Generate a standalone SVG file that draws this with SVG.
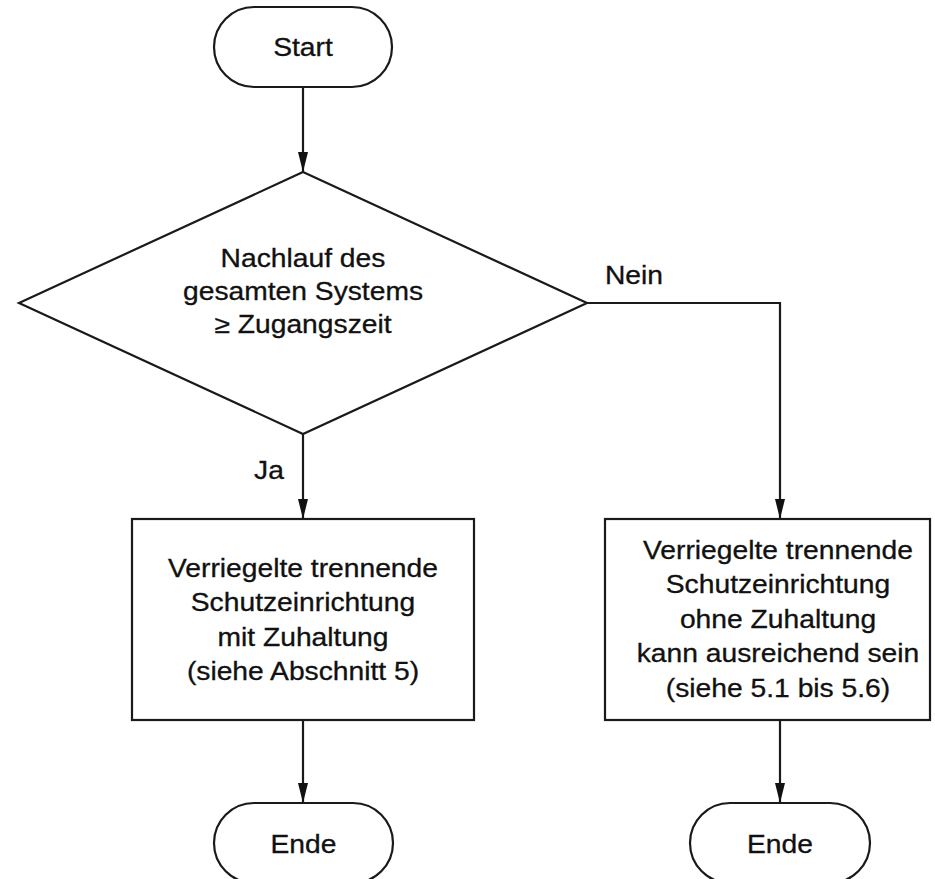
<svg xmlns="http://www.w3.org/2000/svg" width="935" height="879" viewBox="0 0 935 879">
  <style>
    .shape { fill: #ffffff; stroke: #1a1a1a; stroke-width: 2.2; }
    .conn { fill: none; stroke: #1a1a1a; stroke-width: 2.2; }
    .t { font-family: "Liberation Sans", Arial, Helvetica, sans-serif; font-size: 25px; fill: #111111; stroke: #111111; stroke-width: 0.3; text-anchor: middle; }
  </style>
  <defs>
    <marker id="arrow" markerUnits="userSpaceOnUse" markerWidth="20" markerHeight="10" refX="20" refY="5" orient="auto" viewBox="0 0 20 10">
      <path d="M0,0 L20,5 L0,10 Z" fill="#111111"/>
    </marker>
  </defs>
  <rect width="935" height="879" fill="#ffffff"/>

  <g id="connectors">
    <path class="conn" d="M303,87 L303,172" marker-end="url(#arrow)"/>
    <path class="conn" d="M303,434 L303,519" marker-end="url(#arrow)"/>
    <path class="conn" d="M587,303 L780,303 L780,519" marker-end="url(#arrow)"/>
    <path class="conn" d="M303,720 L303,803" marker-end="url(#arrow)"/>
    <path class="conn" d="M780,720 L780,803" marker-end="url(#arrow)"/>
    <g transform="translate(634,0) scale(1.13,1)"><text class="t" x="0" y="284">Nein</text></g>
    <g transform="translate(269,0) scale(1.13,1)"><text class="t" x="0" y="479">Ja</text></g>
  </g>

  <g id="start">
    <rect class="shape" x="214" y="7" width="178" height="80" rx="40" ry="40"/>
    <g transform="translate(303,0) scale(1.13,1)"><text class="t" x="0" y="56">Start</text></g>
  </g>

  <g id="decision">
    <polygon class="shape" points="303,172 587,303 303,434 19,303"/>
    <g transform="translate(303,0) scale(1.13,1)">
      <text class="t" x="0" y="267">Nachlauf des</text>
      <text class="t" x="0" y="300">gesamten Systems</text>
      <text class="t" x="0" y="333">≥ Zugangszeit</text>
    </g>
  </g>

  <g id="box-ja">
    <rect class="shape" x="132" y="519" width="342" height="201"/>
    <g transform="translate(303,0) scale(1.13,1)">
      <text class="t" x="0" y="577">Verriegelte trennende</text>
      <text class="t" x="0" y="611.5">Schutzeinrichtung</text>
      <text class="t" x="0" y="646">mit Zuhaltung</text>
      <text class="t" x="0" y="680.5">(siehe Abschnitt 5)</text>
    </g>
  </g>

  <g id="box-nein">
    <rect class="shape" x="605" y="519" width="325" height="201"/>
    <g transform="translate(778,0) scale(1.13,1)">
      <text class="t" x="0" y="559">Verriegelte trennende</text>
      <text class="t" x="0" y="593.5">Schutzeinrichtung</text>
      <text class="t" x="0" y="628">ohne Zuhaltung</text>
      <text class="t" x="0" y="662.5">kann ausreichend sein</text>
      <text class="t" x="0" y="697">(siehe 5.1 bis 5.6)</text>
    </g>
  </g>

  <g id="end-ja">
    <rect class="shape" x="214" y="803" width="179" height="80" rx="40" ry="40"/>
    <g transform="translate(303.5,0) scale(1.13,1)"><text class="t" x="0" y="853">Ende</text></g>
  </g>

  <g id="end-nein">
    <rect class="shape" x="690" y="803" width="180" height="80" rx="40" ry="40"/>
    <g transform="translate(780,0) scale(1.13,1)"><text class="t" x="0" y="853">Ende</text></g>
  </g>
</svg>
